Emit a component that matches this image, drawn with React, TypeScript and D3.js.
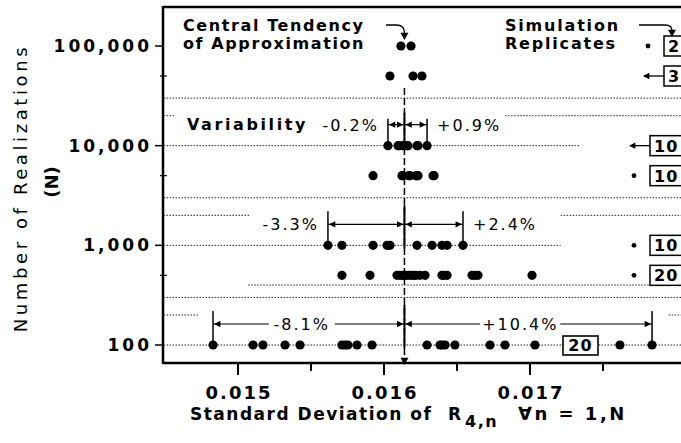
import * as d3 from 'd3'

// rows of the figure: number of realizations N and how many replicates were run
const N_ROWS = [100000, 50000, 10000, 5000, 1000, 500, 100]
const REPLICATES = ['2', '3', '10', '10', '10', '20', '20']
const MARKERS = ['bullet', 'arrow', 'arrow', 'bullet', 'bullet', 'bullet', 'inline']

// standard deviation of R4,n for each replicate, one array per row
const SD_N100000 = [0.016116, 0.016185]
const SD_N50000 = [0.016041, 0.016199, 0.01626]
const SD_N10000 = [0.016027, 0.016096, 0.016103, 0.01613, 0.016137, 0.016158, 0.016164, 0.016226, 0.016233, 0.016295]
const SD_N5000 = [0.015925, 0.016123, 0.01613, 0.016171, 0.016178, 0.016219, 0.016226, 0.016233, 0.016336, 0.016343]
const SD_N1000 = [0.015616, 0.015712, 0.015925, 0.016021, 0.016041, 0.016226, 0.016329, 0.016397, 0.016432, 0.016541]
const SD_N500 = [
  0.015712, 0.015904, 0.016089, 0.01611, 0.01613, 0.016137, 0.016151, 0.016171, 0.016192, 0.016205,
  0.016219, 0.016247, 0.016281, 0.016397, 0.016411, 0.016432, 0.016603, 0.016623, 0.016644, 0.017014,
]
const SD_N100 = [
  0.014829, 0.015103, 0.015171, 0.015322, 0.015425, 0.015712, 0.015733, 0.015753, 0.015815, 0.015918,
  0.016295, 0.016384, 0.016397, 0.016418, 0.016486, 0.016726, 0.016829, 0.017034, 0.017616, 0.017836,
]
const SD_ROWS = [SD_N100000, SD_N50000, SD_N10000, SD_N5000, SD_N1000, SD_N500, SD_N100]

const CENTRAL = 0.01614

// variability brackets
const VAR_N = [10000, 1000, 100]
const VAR_LOW = ['-0.2%', '-3.3%', '-8.1%']
const VAR_HIGH = ['+0.9%', '+2.4%', '+10.4%']

// axis ticks
const X_TICKS = [0.015, 0.016, 0.017]
const X_MINOR = [0.0155, 0.0165, 0.0175]
const Y_TICKS = [100, 1000, 10000, 100000]
const Y_TICK_LABELS = ['100', '1,000', '10,000', '100,000']
const Y_MINOR = [500, 5000, 50000]

// dotted guide lines [N, from sd, to sd]
const GUIDES: [number, number, number][] = [
  [30000, 0.01449, 0.0181],
  [20000, 0.01449, 0.01457],
  [20000, 0.01683, 0.0181],
  [10000, 0.01449, 0.01734],
  [3000, 0.01449, 0.0181],
  [2000, 0.01449, 0.01508],
  [2000, 0.01721, 0.0181],
  [1000, 0.01449, 0.01721],
  [400, 0.01507, 0.0181],
  [300, 0.01449, 0.0181],
  [200, 0.01449, 0.01473],
  [200, 0.01795, 0.0181],
  [100, 0.01449, 0.0181],
]

const W = 681
const H = 443
const LEFT = 163
const TOP = 7
const BOTTOM = 363
const FONT = "'DejaVu Sans', sans-serif"

function Arrowhead({ x, y, dir }: { x: number; y: number; dir: 'l' | 'r' | 'd' }) {
  const s = 4
  let pts = ''
  if (dir === 'l') pts = `${x},${y} ${x + s * 1.6},${y - s * 0.8} ${x + s * 1.6},${y + s * 0.8}`
  if (dir === 'r') pts = `${x},${y} ${x - s * 1.6},${y - s * 0.8} ${x - s * 1.6},${y + s * 0.8}`
  if (dir === 'd') pts = `${x},${y} ${x - s},${y - s * 1.8} ${x + s},${y - s * 1.8}`
  return <polygon points={pts} fill="#000" />
}

export default function App() {
  const x = d3.scaleLinear().domain([0.015, 0.017]).range([238, 530])
  const y = d3.scaleLog().domain([100, 100000]).range([345, 46])
  const cx = x(CENTRAL)

  return (
    <svg
      width={W}
      height={H}
      style={{ position: 'absolute', left: 0, top: 0, background: '#fff' }}
      fontFamily={FONT}
    >
      <rect width={W} height={H} fill="#fff" />

      {/* dotted guides */}
      {GUIDES.map(([n, a, b], i) => (
        <line
          key={'g' + i}
          x1={Math.max(LEFT, x(a))}
          x2={x(b)}
          y1={y(n)}
          y2={y(n)}
          stroke="#222"
          strokeWidth={1}
          strokeDasharray="1.5,1.5"
        />
      ))}

      {/* central tendency line */}
      <line x1={cx} x2={cx} y1={88} y2={BOTTOM - 4} stroke="#000" strokeWidth={1.5} strokeDasharray="7,3" />
      <Arrowhead x={cx} y={BOTTOM + 2} dir="d" />

      {/* variability brackets */}
      {VAR_N.map((n, i) => {
        const row = N_ROWS.indexOf(n)
        const [lo, hi] = d3.extent(SD_ROWS[row]) as [number, number]
        const yr = y(n)
        const ya = yr - 21
        const yt = n === 10000 ? yr - 27 : yr - 34
        const x0 = x(lo)
        const x1 = x(hi)
        const inside = n === 100
        return (
          <g key={'v' + i}>
            <line x1={x0} x2={x0} y1={yt} y2={yr} stroke="#000" strokeWidth={1.5} />
            <line x1={x1} x2={x1} y1={yt} y2={yr} stroke="#000" strokeWidth={1.5} />
            <line x1={cx} x2={cx} y1={yt - 6} y2={yr + 3} stroke="#000" strokeWidth={2} />
            <line x1={x0} x2={cx} y1={ya} y2={ya} stroke="#000" strokeWidth={1.2} />
            <line x1={cx} x2={x1} y1={ya} y2={ya} stroke="#000" strokeWidth={1.2} />
            <Arrowhead x={x0 + 1} y={ya} dir="l" />
            <Arrowhead x={cx - 1} y={ya} dir="r" />
            <Arrowhead x={cx + 1} y={ya} dir="l" />
            <Arrowhead x={x1 - 1} y={ya} dir="r" />
            {inside ? (
              <>
                <rect x={(x0 + cx) / 2 - 40} y={ya - 9} width={66} height={18} fill="#fff" />
                <text x={(x0 + cx) / 2 - 7} y={ya + 6} textAnchor="middle" fontSize={16} letterSpacing={2}>
                  {VAR_LOW[i]}
                </text>
                <rect x={(cx + x1) / 2 - 48} y={ya - 9} width={80} height={18} fill="#fff" />
                <text x={(cx + x1) / 2 - 8} y={ya + 6} textAnchor="middle" fontSize={16} letterSpacing={2}>
                  {VAR_HIGH[i]}
                </text>
              </>
            ) : (
              <>
                <text x={x0 - 9} y={ya + 6} textAnchor="end" fontSize={16} letterSpacing={2}>
                  {VAR_LOW[i]}
                </text>
                <text x={x1 + 10} y={ya + 6} fontSize={16} letterSpacing={2}>
                  {VAR_HIGH[i]}
                </text>
              </>
            )}
          </g>
        )
      })}
      <text x={187} y={130} fontSize={16} fontWeight="bold" letterSpacing={2.6}>
        Variability
      </text>

      {/* replicate dots */}
      {SD_ROWS.map((vals, r) =>
        vals.map((v, j) => <circle key={r + '-' + j} cx={x(v)} cy={y(N_ROWS[r])} r={4.6} fill="#000" />)
      )}

      {/* replicate count labels */}
      {N_ROWS.map((n, i) => {
        const yr = y(n)
        if (MARKERS[i] === 'inline') {
          return (
            <g key={'l' + i}>
              <rect x={563} y={yr - 9} width={35} height={19} fill="#fff" stroke="#000" strokeWidth={1.6} />
              <text x={580.5} y={yr + 6} textAnchor="middle" fontSize={16} fontWeight="bold" letterSpacing={1}>
                {REPLICATES[i]}
              </text>
            </g>
          )
        }
        const bx = i < 2 ? 664 : 650
        return (
          <g key={'l' + i}>
            {MARKERS[i] === 'bullet' ? (
              <circle cx={bx - 16} cy={yr} r={2.4} fill="#000" />
            ) : (
              <>
                <line x1={bx - 20} x2={bx} y1={yr} y2={yr} stroke="#000" strokeWidth={1.3} />
                <Arrowhead x={bx - 21} y={yr} dir="l" />
              </>
            )}
            <rect x={bx} y={yr - 10} width={40} height={20} fill="#fff" stroke="#000" strokeWidth={1.5} />
            <text x={bx + 4} y={yr + 6} fontSize={16} fontWeight="bold" letterSpacing={1}>
              {REPLICATES[i]}
            </text>
          </g>
        )
      })}

      {/* annotations at top */}
      <text fontSize={16} fontWeight="bold" letterSpacing={1.6}>
        <tspan x={183} y={31}>Central Tendency</tspan>
        <tspan x={183} y={49}>of Approximation</tspan>
      </text>
      <path d={`M386,25 L${cx - 8},25 Q${cx},25 ${cx},33`} fill="none" stroke="#000" strokeWidth={1.3} />
      <Arrowhead x={cx} y={40} dir="d" />

      <text fontSize={16} fontWeight="bold" letterSpacing={1.8}>
        <tspan x={505} y={31}>Simulation</tspan>
        <tspan x={505} y={49}>Replicates</tspan>
      </text>
      <path d="M639,25 L665,25 Q672,25 672,31" fill="none" stroke="#000" strokeWidth={1.3} />
      <Arrowhead x={672} y={37} dir="d" />

      {/* frame and axes */}
      <line x1={LEFT} x2={W} y1={TOP} y2={TOP} stroke="#000" strokeWidth={2.5} />
      <line x1={LEFT} x2={LEFT} y1={TOP - 1} y2={BOTTOM + 1} stroke="#000" strokeWidth={2.5} />
      <line x1={LEFT} x2={W} y1={BOTTOM} y2={BOTTOM} stroke="#000" strokeWidth={2.5} />

      {Y_TICKS.map((t, i) => (
        <g key={'yt' + i}>
          <line x1={LEFT - 8} x2={LEFT} y1={y(t)} y2={y(t)} stroke="#000" strokeWidth={1.5} />
          <text x={152} y={y(t) + 6} textAnchor="end" fontSize={17} fontWeight="bold" letterSpacing={3}>
            {Y_TICK_LABELS[i]}
          </text>
        </g>
      ))}
      {Y_MINOR.map((t) => (
        <line key={'ym' + t} x1={LEFT - 3} x2={LEFT + 4} y1={y(t)} y2={y(t)} stroke="#000" strokeWidth={1.2} />
      ))}

      {X_TICKS.map((t, i) => (
        <g key={'xt' + i}>
          <line x1={x(t)} x2={x(t)} y1={BOTTOM} y2={BOTTOM + 12} stroke="#000" strokeWidth={2} />
          <text x={x(t) + 1} y={399} textAnchor="middle" fontSize={18} fontWeight="bold" letterSpacing={2}>
            {d3.format('.3f')(t)}
          </text>
        </g>
      ))}
      {X_MINOR.map((t) => (
        <line key={'xm' + t} x1={x(t)} x2={x(t)} y1={BOTTOM} y2={BOTTOM + 8} stroke="#000" strokeWidth={2} />
      ))}

      {/* axis titles */}
      <text transform="translate(27,188) rotate(-90)" textAnchor="middle" fontSize={18} letterSpacing={3.6}>
        Number of Realizations
      </text>
      <text x={52} y={182} transform="rotate(-90,52,182)" textAnchor="middle" dy={6} fontSize={18} fontWeight="bold">
        (N)
      </text>

      <text y={420} fontSize={17} fontWeight="bold" letterSpacing={1.5}>
        <tspan x={190}>Standard Deviation of</tspan>
        <tspan x={448}>R</tspan>
        <tspan x={465} dy={7} fontSize={16}>
          4,n
        </tspan>
        <tspan x={518} dy={-7} fontSize={18} letterSpacing={2.5}>
          ∀n = 1,N
        </tspan>
      </text>
    </svg>
  )
}
